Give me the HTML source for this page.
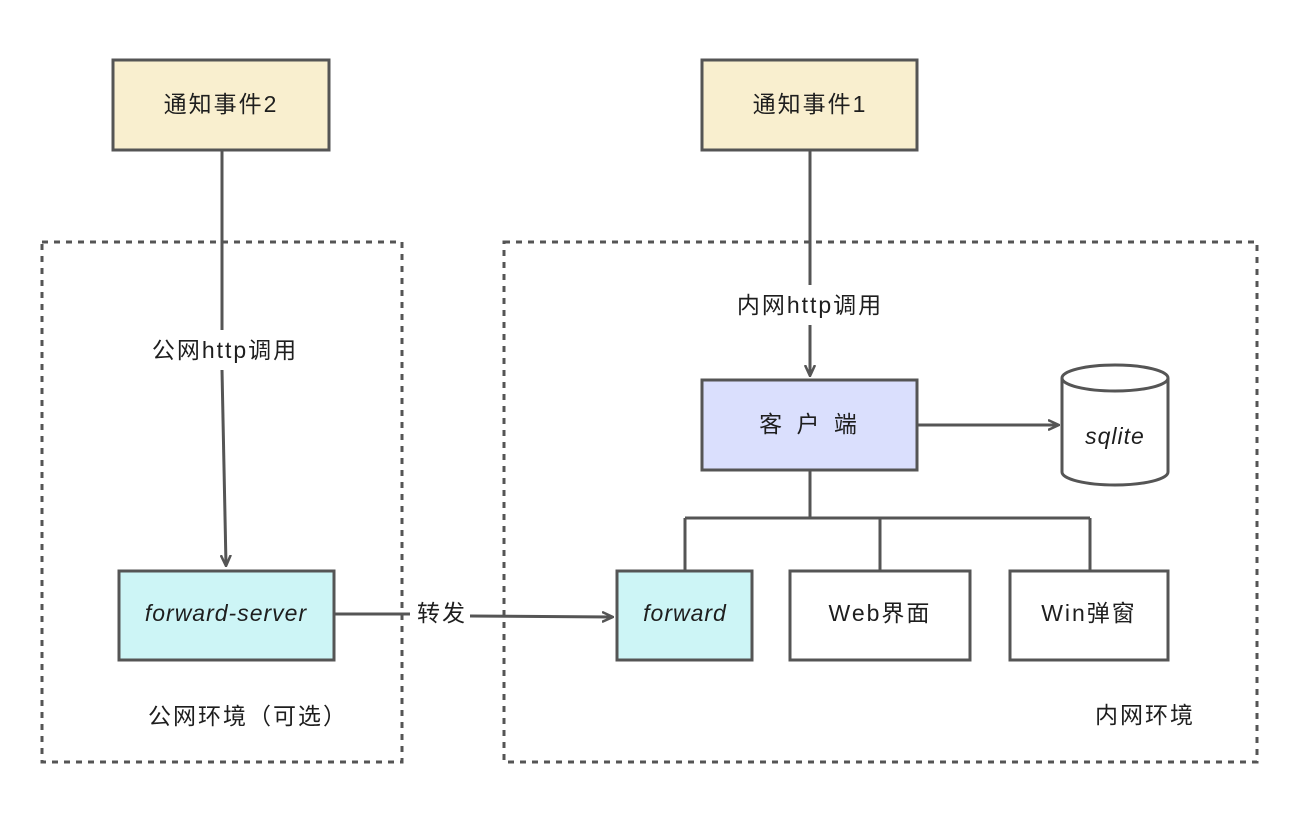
<!DOCTYPE html>
<html><head><meta charset="utf-8"><style>
html,body{margin:0;padding:0;background:#fff;}
svg text{font-family:"Liberation Sans","Noto Sans CJK SC",sans-serif;fill:#1e1e1e;}
</style></head><body>
<svg width="1304" height="814" viewBox="0 0 1304 814" xmlns="http://www.w3.org/2000/svg">
<defs>
<marker id="a" markerWidth="12" markerHeight="12" refX="10" refY="6" orient="auto" markerUnits="userSpaceOnUse">
<path d="M0,1 L11,6 L0,11" fill="none" stroke="#555" stroke-width="2.5"/>
</marker>
</defs>
<g fill="none" stroke="#555" stroke-width="3" stroke-dasharray="6,6">
<rect x="42" y="242" width="360" height="520"/>
<rect x="504" y="242" width="753" height="520"/>
</g>
<g stroke="#555" stroke-width="3">
<rect x="113" y="60" width="216" height="90" fill="#f9efcf"/>
<rect x="702" y="60" width="215" height="90" fill="#f9efcf"/>
<rect x="702" y="380" width="215" height="90" fill="#dadffd"/>
<rect x="119" y="571" width="215" height="89" fill="#cdf5f6"/>
<rect x="617" y="571" width="135" height="89" fill="#cdf5f6"/>
<rect x="790" y="571" width="180" height="89" fill="#fff"/>
<rect x="1010" y="571" width="158" height="89" fill="#fff"/>
<path d="M1062,378 V472 A53,13 0 0 0 1168,472 V378 A53,13 0 0 0 1062,378 Z" fill="#fff"/>
<path d="M1062,378 A53,13 0 0 0 1168,378" fill="none"/>
</g>
<g stroke="#555" stroke-width="3" fill="none">
<path d="M222,150 L222,330"/>
<path d="M222,370 L226,565" marker-end="url(#a)"/>
<path d="M810,150 L810,285"/>
<path d="M810,325 L810,375" marker-end="url(#a)"/>
<path d="M917,425 L1058,425" marker-end="url(#a)"/>
<path d="M810,470 V518 M685,518 H1090 M685,518 V570 M880,518 V570 M1090,518 V570"/>
<path d="M334,614 L410,614"/>
<path d="M470,616 L612,617" marker-end="url(#a)"/>
</g>
<g font-size="23" text-anchor="middle" letter-spacing="2">
<text x="221" y="112">通知事件2</text>
<text x="810" y="112">通知事件1</text>
<text x="810" y="432" letter-spacing="4">客 户 端</text>
<text x="1115" y="444" font-style="italic" letter-spacing="1">sqlite</text>
<text x="226" y="621" font-style="italic" letter-spacing="1">forward-server</text>
<text x="685" y="621" font-style="italic" letter-spacing="1">forward</text>
<text x="880" y="621">Web界面</text>
<text x="1089" y="621">Win弹窗</text>
<text x="225" y="358">公网http调用</text>
<text x="810" y="313">内网http调用</text>
<text x="442" y="621">转发</text>
<text x="248" y="724">公网环境（可选）</text>
<text x="1145" y="723">内网环境</text>
</g>
</svg>
</body></html>
